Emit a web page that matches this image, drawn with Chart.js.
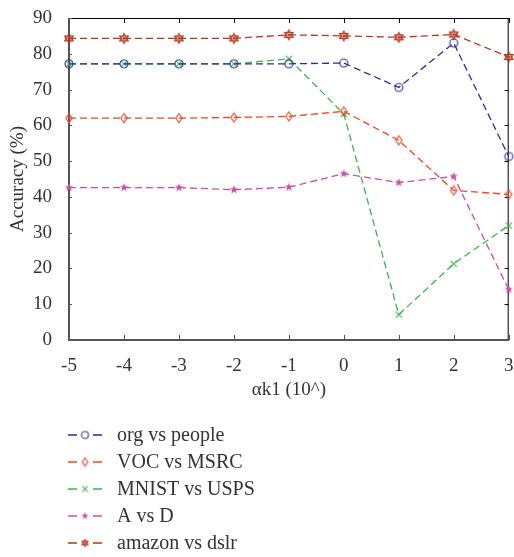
<!DOCTYPE html>
<html>
<head>
<meta charset="utf-8">
<script src="https://cdn.jsdelivr.net/npm/chart.js@4.4.0/dist/chart.umd.min.js"></script>
<style>
html, body { margin: 0; padding: 0; background: #fff; }
#wrap { width: 514px; height: 557px; }
</style>
</head>
<body>
<div id="wrap"><canvas id="accChart" width="514" height="557"></canvas></div>
<script>
// values
const xValues = [-5, -4, -3, -2, -1, 0, 1, 2, 3];
const orgPeople = [77.2, 77.2, 77.2, 77.2, 77.2, 77.4, 70.6, 83.0, 51.3];
const vocMsrc = [62.0, 62.0, 62.0, 62.2, 62.5, 63.9, 55.8, 41.8, 40.7];
const mnistUsps = [77.2, 77.2, 77.2, 77.2, 78.6, 63.2, 7.1, 21.3, 32.0];
const aVsD = [42.6, 42.6, 42.6, 42.0, 42.7, 46.5, 44.0, 45.7, 14.1];
const amazonDslr = [84.3, 84.3, 84.3, 84.3, 85.3, 85.0, 84.6, 85.4, 79.1];
const seriesNames = ['org vs people', 'VOC vs MSRC', 'MNIST vs USPS', 'A vs D', 'amazon vs dslr'];
const seriesColors = ['#2d2d96', '#f0451f', '#3db54a', '#c84fa8', '#b5371b'];
const seriesMarkers = ['circle', 'diamond', 'cross', 'star', 'hexagram'];

const FONT = '"Liberation Serif", "Times New Roman", serif';
const TEXT = '#333';

// small canvases used as point styles
function makeMarker(shape, color, r) {
    const s = Math.ceil(r * 2 + 4);
    const c = document.createElement('canvas');
    c.width = s; c.height = s;
    const g = c.getContext('2d');
    const m = s / 2;
    g.strokeStyle = color;
    g.fillStyle = color;
    g.lineWidth = 1.1;
    g.beginPath();
    if (shape === 'circle') {
        g.arc(m, m, r, 0, Math.PI * 2);
        g.stroke();
    } else if (shape === 'diamond') {
        g.moveTo(m, m - r - 0.5); g.lineTo(m + r * 0.8, m); g.lineTo(m, m + r + 0.5); g.lineTo(m - r * 0.8, m);
        g.closePath();
        g.stroke();
    } else if (shape === 'cross') {
        const d = r * 0.8;
        g.moveTo(m - d, m - d); g.lineTo(m + d, m + d);
        g.moveTo(m + d, m - d); g.lineTo(m - d, m + d);
        g.stroke();
    } else if (shape === 'star') {
        for (let k = 0; k < 10; k++) {
            const a = -Math.PI / 2 + k * Math.PI / 5;
            const rr = k % 2 === 0 ? r + 0.5 : r * 0.45;
            const px = m + rr * Math.cos(a), py = m + rr * Math.sin(a);
            k === 0 ? g.moveTo(px, py) : g.lineTo(px, py);
        }
        g.closePath();
        g.fill();
    } else if (shape === 'hexagram') {
        for (let t = 0; t < 2; t++) {
            g.beginPath();
            for (let k = 0; k < 3; k++) {
                const a = (t ? Math.PI / 2 : -Math.PI / 2) + k * 2 * Math.PI / 3;
                const px = m + r * Math.cos(a), py = m + r * Math.sin(a);
                k === 0 ? g.moveTo(px, py) : g.lineTo(px, py);
            }
            g.closePath();
            g.stroke();
        }
        g.beginPath();
        g.arc(m, m, r * 0.3, 0, Math.PI * 2);
        g.fill();
    }
    return c;
}

const allSeries = [orgPeople, vocMsrc, mnistUsps, aVsD, amazonDslr];
const datasets = allSeries.map((vals, i) => ({
    label: seriesNames[i],
    data: xValues.map((x, j) => ({ x: x, y: vals[j] })),
    borderColor: seriesColors[i],
    backgroundColor: seriesColors[i],
    borderWidth: 1.3,
    borderDash: [7, 4],
    pointStyle: makeMarker(seriesMarkers[i], seriesColors[i], i === 4 ? 5 : 4),
    legendMarker: makeMarker(seriesMarkers[i], seriesColors[i], 3.5),
    pointRadius: 4,
    tension: 0,
    fill: false,
    clip: false
}));

// box around the plot with inward ticks
const framePlugin = {
    id: 'frame',
    beforeDatasetsDraw(chart) {
        const { ctx, chartArea: a, scales } = chart;
        ctx.save();
        ctx.strokeStyle = '#000';
        ctx.lineWidth = 1;
        ctx.beginPath();
        ctx.moveTo(a.left, a.top + 0.5); ctx.lineTo(a.right, a.top + 0.5);
        ctx.moveTo(a.right - 0.5, a.top); ctx.lineTo(a.right - 0.5, a.bottom);
        scales.x.ticks.forEach(t => {
            const px = Math.round(scales.x.getPixelForValue(t.value)) + 0.5;
            ctx.moveTo(px, a.top); ctx.lineTo(px, a.top + 5);
        });
        scales.y.ticks.forEach(t => {
            const py = Math.round(scales.y.getPixelForValue(t.value)) + 0.5;
            ctx.moveTo(a.right, py); ctx.lineTo(a.right - 4, py);
        });
        ctx.stroke();

        ctx.strokeStyle = '#555';
        ctx.beginPath();
        scales.x.ticks.forEach(t => {
            const px = Math.round(scales.x.getPixelForValue(t.value)) + 0.5;
            ctx.moveTo(px, a.bottom); ctx.lineTo(px, a.bottom - 5);
        });
        scales.y.ticks.forEach(t => {
            const py = Math.round(scales.y.getPixelForValue(t.value)) + 0.5;
            ctx.moveTo(a.left, py); ctx.lineTo(a.left + 3, py);
        });
        ctx.stroke();

        ctx.lineWidth = 2;
        ctx.beginPath();
        ctx.moveTo(a.left, a.top); ctx.lineTo(a.left, a.bottom);
        ctx.lineTo(a.right, a.bottom);
        ctx.stroke();
        ctx.restore();
    }
};

// legend stacked under the x axis title
const legendPlugin = {
    id: 'stackLegend',
    afterDraw(chart) {
        const ctx = chart.ctx;
        ctx.save();
        chart.data.datasets.forEach((ds, i) => {
            const y = 435 + i * 27;
            ctx.strokeStyle = ds.borderColor;
            ctx.lineWidth = 1.3;
            ctx.beginPath();
            ctx.moveTo(68, y); ctx.lineTo(77, y);
            ctx.moveTo(93, y); ctx.lineTo(102, y);
            ctx.stroke();
            const mk = ds.legendMarker;
            ctx.drawImage(mk, 85 - mk.width / 2, y - mk.height / 2);
            ctx.fillStyle = TEXT;
            ctx.font = '20px ' + FONT;
            ctx.textBaseline = 'middle';
            ctx.fillText(ds.label, 117, y + 1);
        });
        ctx.restore();
    }
};

new Chart(document.getElementById('accChart').getContext('2d'), {
    type: 'line',
    data: { datasets: datasets },
    plugins: [framePlugin, legendPlugin],
    options: {
        responsive: false,
        animation: false,
        devicePixelRatio: 1,
        layout: { padding: { top: 18, right: 2, left: 0, bottom: 150 } },
        plugins: { legend: { display: false }, tooltip: { enabled: false } },
        scales: {
            x: {
                type: 'linear',
                min: -5, max: 3,
                grid: { display: false },
                border: { display: false },
                ticks: { stepSize: 1, autoSkip: false, maxRotation: 0, padding: 7, color: TEXT, font: { family: FONT, size: 19 } },
                title: { display: true, text: 'αk1 (10^)', color: TEXT, padding: { top: 0, bottom: 6 }, font: { family: FONT, size: 19 } },
                afterFit: s => { s.height = 67; s.paddingLeft = 0; s.paddingRight = 0; }
            },
            y: {
                min: 0, max: 90,
                grid: { display: false },
                border: { display: false },
                ticks: { stepSize: 10, padding: 9, color: TEXT, font: { family: FONT, size: 19 } },
                title: { display: true, text: 'Accuracy (%)', color: TEXT, padding: { top: 7, bottom: 0 }, font: { family: FONT, size: 19 } },
                afterFit: s => { s.width = 69; s.paddingTop = 0; s.paddingBottom = 0; }
            }
        }
    }
});
</script>
</body>
</html>
